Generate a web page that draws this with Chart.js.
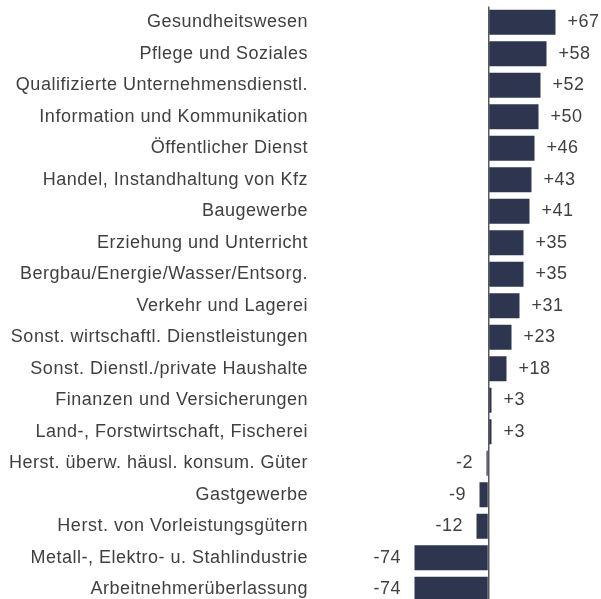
<!DOCTYPE html>
<html>
<head>
<meta charset="utf-8">
<script src="https://cdn.jsdelivr.net/npm/chart.js@4"></script>
<style>
html,body{margin:0;padding:0;background:#fff;overflow:hidden;}
#wrap{position:relative;width:601px;height:605px;}
</style>
</head>
<body>
<div id="wrap"><canvas id="c"></canvas></div>
<script>
const categories = [
  "Gesundheitswesen",
  "Pflege und Soziales",
  "Qualifizierte Unternehmensdienstl.",
  "Information und Kommunikation",
  "Öffentlicher Dienst",
  "Handel, Instandhaltung von Kfz",
  "Baugewerbe",
  "Erziehung und Unterricht",
  "Bergbau/Energie/Wasser/Entsorg.",
  "Verkehr und Lagerei",
  "Sonst. wirtschaftl. Dienstleistungen",
  "Sonst. Dienstl./private Haushalte",
  "Finanzen und Versicherungen",
  "Land-, Forstwirtschaft, Fischerei",
  "Herst. überw. häusl. konsum. Güter",
  "Gastgewerbe",
  "Herst. von Vorleistungsgütern",
  "Metall-, Elektro- u. Stahlindustrie",
  "Arbeitnehmerüberlassung"
];
const values = [67, 58, 52, 50, 46, 43, 41, 35, 35, 31, 23, 18, 3, 3, -2, -9, -12, -74, -74];

const FONT = "'Liberation Sans', Arial, sans-serif";
const FSIZE = 18;
const SPACING = '0.5px';
const TEXT = "#404040";
const BAR = "#2e364f";

const spacingPlugin = {
  id: 'spacing',
  beforeDraw(chart) { chart.ctx.letterSpacing = SPACING; }
};

const valueLabels = {
  id: 'valueLabels',
  afterDatasetsDraw(chart) {
    const ctx = chart.ctx;
    const meta = chart.getDatasetMeta(0);
    ctx.save();
    ctx.letterSpacing = SPACING;
    ctx.font = FSIZE + "px " + FONT;
    ctx.fillStyle = TEXT;
    ctx.textBaseline = 'middle';
    meta.data.forEach((el, i) => {
      const v = values[i];
      const txt = (v > 0 ? '+' : '') + v;
      if (v >= 0) {
        ctx.textAlign = 'left';
        ctx.fillText(txt, el.x + 12, el.y);
      } else {
        ctx.textAlign = 'right';
        ctx.fillText(txt, el.x - 13.5, el.y);
      }
    });
    ctx.restore();
  }
};

new Chart(document.getElementById('c'), {
  type: 'bar',
  data: {
    labels: categories,
    datasets: [{
      data: values,
      backgroundColor: BAR,
      borderWidth: 0,
      barPercentage: 0.8,
      categoryPercentage: 1.0
    }]
  },
  options: {
    indexAxis: 'y',
    responsive: true,
    maintainAspectRatio: false,
    animation: false,
    layout: { padding: { top: 6.5, bottom: 0, left: 0, right: 0 } },
    plugins: { legend: { display: false }, tooltip: { enabled: false } },
    scales: {
      x: {
        min: -172.5,
        max: 112.5,
        ticks: { display: false },
        border: { display: false },
        grid: {
          drawTicks: false,
          color: (c) => (c.tick && c.tick.value === 0) ? '#595959' : 'rgba(0,0,0,0)',
          lineWidth: (c) => (c.tick && c.tick.value === 0) ? 1.5 : 0
        },
        afterBuildTicks: (s) => { s.ticks = [{ value: 0 }]; },
        afterFit: (s) => { s.height = 0; s.paddingLeft = 0; s.paddingRight = 0; }
      },
      y: {
        afterFit: (s) => { s.width = 316; s.paddingTop = 0; s.paddingBottom = 0; },
        border: { display: false },
        grid: { display: false, drawTicks: false },
        ticks: {
          padding: 8,
          color: TEXT,
          font: { family: FONT, size: FSIZE },
          autoSkip: false
        }
      }
    }
  },
  plugins: [spacingPlugin, valueLabels]
});
</script>
</body>
</html>
